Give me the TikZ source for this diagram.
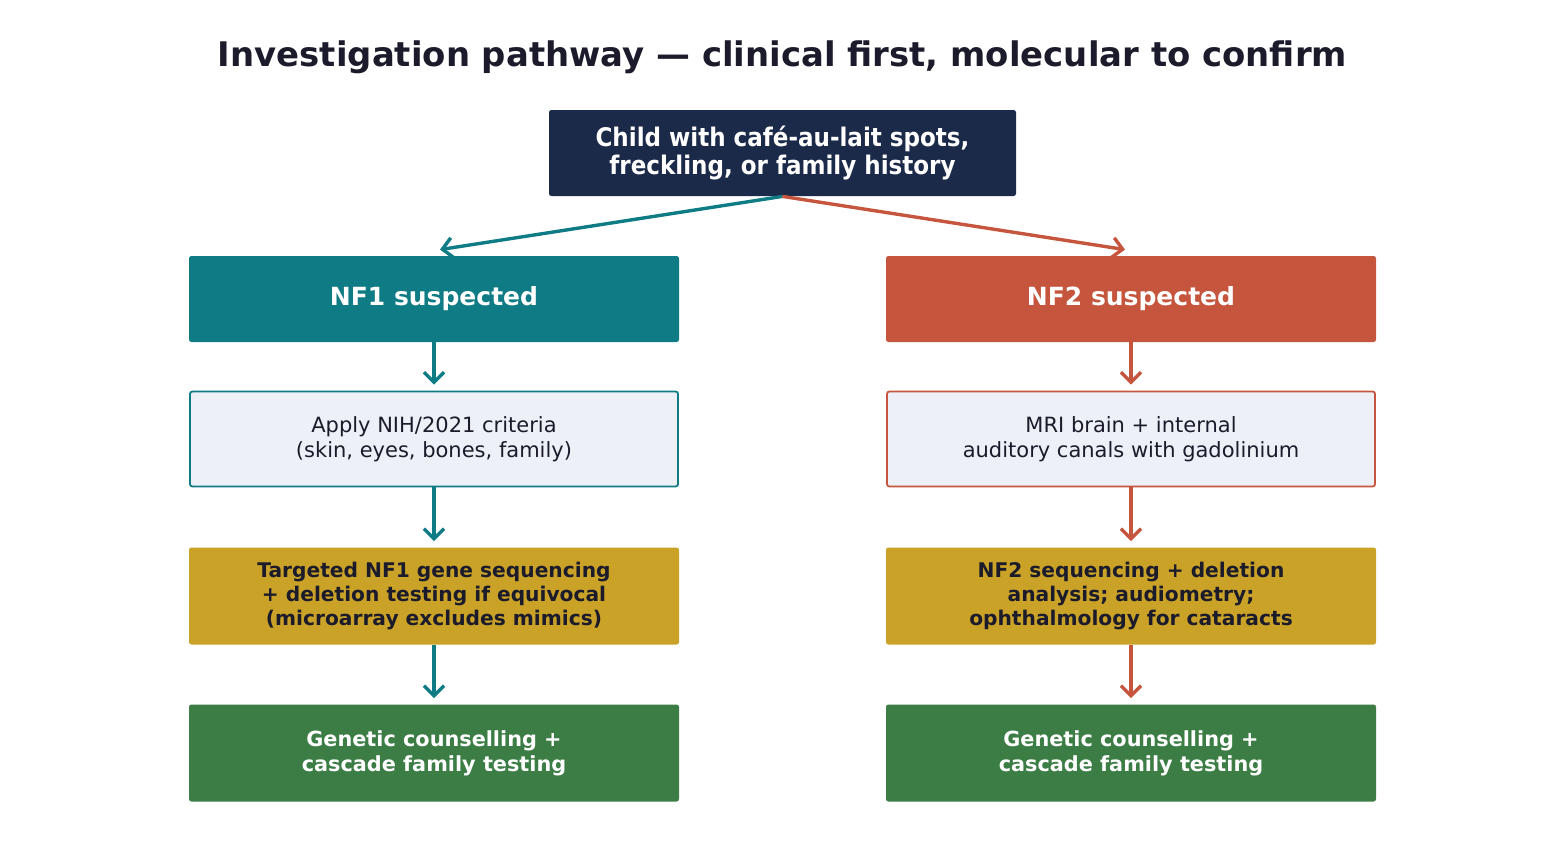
\documentclass[tikz,border=0pt]{standalone}
\usepackage{fontspec}
\setmainfont{DejaVu Sans}
\newfontfamily\condfont{DejaVu Sans Condensed}
\usetikzlibrary{positioning, arrows.meta}

\definecolor{navy}{HTML}{1B2A48}
\definecolor{teal}{HTML}{0F7B85}
\definecolor{rust}{HTML}{C5553D}
\definecolor{mustard}{HTML}{C9A227}
\definecolor{leaf}{HTML}{3B7D44}
\definecolor{paleblue}{HTML}{EDF1F7}
\definecolor{ink}{HTML}{1B1B2B}

\tikzset{
  box/.style = {rectangle, rounded corners=1.2pt, minimum width=245pt, minimum height=43pt, align=center, inner sep=2pt},
  topbox/.style = {box, fill=navy, text=white, minimum width=233.5pt, font=\condfont\bfseries\fontsize{12.8}{14}\selectfont},
  suspbox/.style = {box, text=white, font=\bfseries\fontsize{12.5}{14}\selectfont},
  critbox/.style = {box, fill=paleblue, line width=0.9pt, minimum width=244pt, minimum height=47.5pt, text=ink, font=\fontsize{10.5}{12.6}\selectfont},
  testbox/.style = {box, fill=mustard, text=ink, minimum height=48.5pt, font=\bfseries\fontsize{10.1}{12}\selectfont},
  endbox/.style = {box, fill=leaf, text=white, minimum height=48.5pt, font=\bfseries\fontsize{10.4}{12.5}\selectfont},
  flow/.style = {line width=1.7pt, -{Straight Barb[length=5pt, width=10pt, line width=1.7pt]}}
}

\begin{document}
\begin{tikzpicture}[x=0.5pt, y=-0.5pt]
  \useasboundingbox (0,0) rectangle (1565,862);

  % title
  \node[text=ink, font=\bfseries\fontsize{16.95}{20}\selectfont] (title) at (782.5,57) {Investigation pathway — clinical first, molecular to confirm};

  % start
  \node[topbox] (start) at (782.5,153) {Child with café-au-lait spots,\\freckling, or family history};

  % NF1 branch
  \node[suspbox, fill=teal] (nf1) at (434,299) {NF1 suspected};
  \node[critbox, draw=teal] (nf1crit) at (434,439) {Apply NIH/2021 criteria\\(skin, eyes, bones, family)};
  \node[testbox] (nf1test) at (434,596) {Targeted NF1 gene sequencing\\+ deletion testing if equivocal\\(microarray excludes mimics)};
  \node[endbox] (nf1end) at (434,753) {Genetic counselling +\\cascade family testing};

  % NF2 branch
  \node[suspbox, fill=rust] (nf2) at (1131,299) {NF2 suspected};
  \node[critbox, draw=rust] (nf2crit) at (1131,439) {MRI brain + internal\\auditory canals with gadolinium};
  \node[testbox] (nf2test) at (1131,596) {NF2 sequencing + deletion\\analysis; audiometry;\\ophthalmology for cataracts};
  \node[endbox] (nf2end) at (1131,753) {Genetic counselling +\\cascade family testing};

  % connectors
  \draw[flow, teal] (start.south) -- ([xshift=3pt, yshift=3pt]nf1.north);
  \draw[flow, rust] (start.south) -- ([xshift=-3pt, yshift=3pt]nf2.north);
  \draw[flow, teal] (nf1) -- ([yshift=3pt]nf1crit.north);
  \draw[flow, teal] (nf1crit) -- ([yshift=3pt]nf1test.north);
  \draw[flow, teal] (nf1test) -- ([yshift=3pt]nf1end.north);
  \draw[flow, rust] (nf2) -- ([yshift=3pt]nf2crit.north);
  \draw[flow, rust] (nf2crit) -- ([yshift=3pt]nf2test.north);
  \draw[flow, rust] (nf2test) -- ([yshift=3pt]nf2end.north);
\end{tikzpicture}
\end{document}
